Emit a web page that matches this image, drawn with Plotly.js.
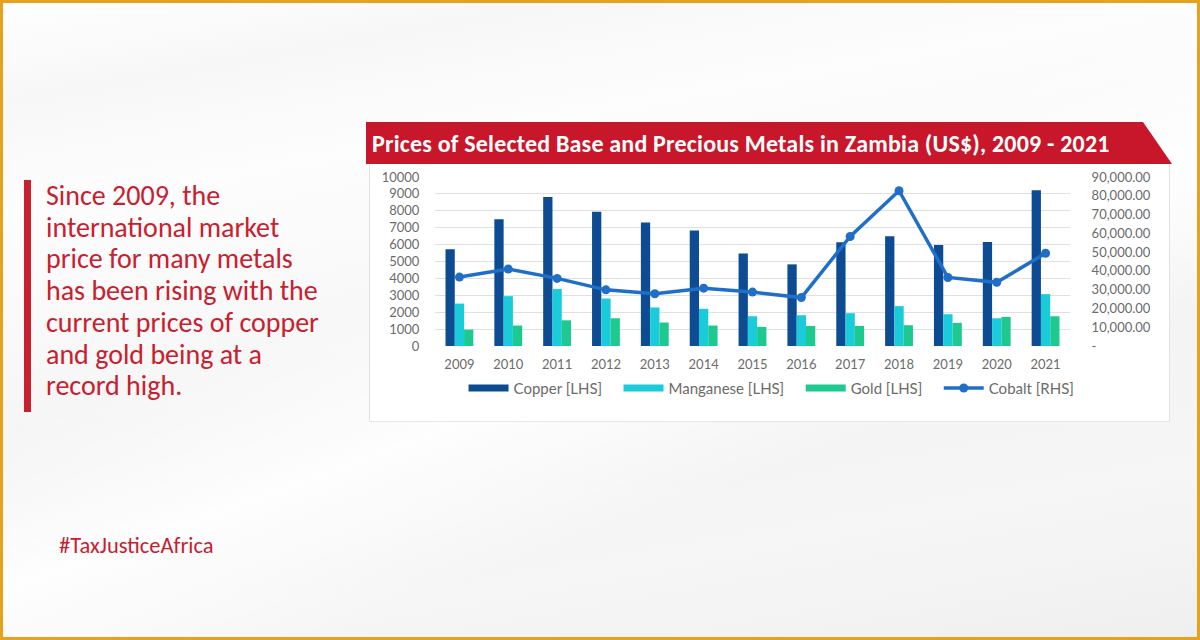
<!DOCTYPE html>
<html>
<head>
<meta charset="utf-8">
<script src="https://cdn.plot.ly/plotly-3.0.1.min.js"></script>
<style>
  html, body { margin: 0; padding: 0; }
  body {
    width: 1200px; height: 640px; position: relative; overflow: hidden;
    background:
      linear-gradient(160deg, rgba(255,255,255,0) 0%, rgba(255,255,255,0) 40%, rgba(255,255,255,0.9) 55%, rgba(255,255,255,0) 70%),
      linear-gradient(170deg, #ffffff 0%, #f7f7f7 12%, #fdfdfd 25%, #f3f3f3 60%, #f6f6f6 80%, #efefef 100%);
  }
  #frame {
    position: absolute; left: 0; top: 0; width: 1194px; height: 634px;
    border: 3px solid #e6a21c; pointer-events: none;
  }
  #bar {
    position: absolute; left: 24px; top: 180px; width: 7px; height: 232px; background: #c8202f;
  }
  #lead {
    position: absolute; left: 46px; top: 180px;
    font-family: Carlito, Lato, sans-serif; font-size: 28px; line-height: 31.7px; color: #c8202f;
  }
  #tag {
    position: absolute; left: 59px; top: 534px;
    font-family: Carlito, Lato, sans-serif; font-size: 22.5px; line-height: 24px; color: #c8202f;
  }
  #panel {
    position: absolute; left: 369px; top: 164px; width: 799px; height: 257px;
    background: #ffffff; border-left: 1px solid #e2e2e2; border-right: 1px solid #e2e2e2;
    border-bottom: 1px solid #e6e6e6;
  }
  #banner {
    position: absolute; left: 366px; top: 122px; width: 806px; height: 42px;
    background: #c8172a;
    clip-path: polygon(0 0, 777px 0, 806px 42px, 0 42px);
  }
  #banner span {
    position: absolute; left: 6px; top: 8px; white-space: nowrap; letter-spacing: 0.2px;
    font-family: Carlito, Lato, sans-serif; font-weight: bold; font-size: 24px; line-height: 28px; color: #ffffff;
  }
  #chart { position: absolute; left: 369px; top: 164px; width: 799px; height: 257px; }
</style>
</head>
<body>
<div id="frame"></div>
<div id="bar"></div>
<div id="lead">Since 2009, the<br>international market<br>price for many metals<br>has been rising with the<br>current prices of copper<br>and gold being at a<br>record high.</div>
<div id="tag">#TaxJusticeAfrica</div>
<div id="panel"></div>
<div id="banner"><span>Prices of Selected Base and Precious Metals in Zambia (US$), 2009 - 2021</span></div>
<div id="chart"></div>
<script>
var years = ['2009', '2010', '2011', '2012', '2013', '2014', '2015', '2016', '2017', '2018', '2019', '2020', '2021'];
var copper = [5720, 7500, 8810, 7940, 7310, 6830, 5470, 4830, 6140, 6500, 5980, 6160, 9210];
var manganese = [2510, 2950, 3370, 2810, 2280, 2200, 1760, 1820, 1940, 2360, 1880, 1640, 3070];
var gold = [970, 1210, 1520, 1640, 1390, 1210, 1130, 1190, 1190, 1230, 1370, 1720, 1760];
var cobalt = [36700, 41000, 36000, 29900, 27800, 30800, 28700, 25800, 58300, 82700, 36500, 33900, 49400];

var leftTicks = [0, 1000, 2000, 3000, 4000, 5000, 6000, 7000, 8000, 9000, 10000];
var leftTickText = ['0', '1000', '2000', '3000', '4000', '5000', '6000', '7000', '8000', '9000', '10000'];
var rightTicks = [0, 10000, 20000, 30000, 40000, 50000, 60000, 70000, 80000, 90000];
var rightTickText = ['-', '10,000.00', '20,000.00', '30,000.00', '40,000.00', '50,000.00',
  '60,000.00', '70,000.00', '80,000.00', '90,000.00'];

var colors = {copper: '#0d4c93', manganese: '#1accd9', gold: '#1dc98f', cobalt: '#1f6fc9'};

var tick_font = {
  family: 'Lato, sans-serif',
  size: 13,
  color: '#6b6b6b'
};

// trailing no-break spaces widen the gap between legend entries
var pad = '\u00a0\u00a0\u00a0';

// bars stay out of the legend; wide swatches come from empty line traces
function barTrace(vals, name, color) {
  return {x: years, y: vals, name: name, type: 'bar', legendgroup: name, showlegend: false,
    marker: {color: color}};
}
function swatch(name, color) {
  return {x: [years[0]], y: [null], name: name + pad, type: 'scatter', mode: 'lines', legendgroup: name,
    line: {color: color, width: 7}, hoverinfo: 'skip'};
}

var data = [
  barTrace(copper, 'Copper [LHS]', colors.copper),
  barTrace(manganese, 'Manganese [LHS]', colors.manganese),
  barTrace(gold, 'Gold [LHS]', colors.gold),
  swatch('Copper [LHS]', colors.copper),
  swatch('Manganese [LHS]', colors.manganese),
  swatch('Gold [LHS]', colors.gold),
  {
    x: years, y: cobalt, name: 'Cobalt [RHS]', type: 'scatter', mode: 'lines+markers',
    yaxis: 'y2',
    line: {color: colors.cobalt, width: 3.5},
    marker: {color: colors.cobalt, size: 9}
  }
];

var layout = {
  barmode: 'group',
  bargap: 0.43,
  bargroupgap: 0,
  width: 799,
  height: 257,
  margin: {l: 66, r: 98, t: 13, b: 75, autoexpand: false},
  paper_bgcolor: 'rgba(0,0,0,0)',
  plot_bgcolor: 'rgba(0,0,0,0)',
  font: tick_font,
  showlegend: true,
  legend: {
    orientation: 'h',
    x: 0.53, xanchor: 'center',
    y: -0.25, yanchor: 'middle',
    font: {family: 'Lato, sans-serif', size: 15, color: '#6b6b6b'},
    traceorder: 'normal',
    itemwidth: 40
  },
  xaxis: {
    type: 'category',
    range: [-0.5, years.length - 0.5],
    tickfont: tick_font,
    showgrid: false,
    showline: false,
    ticks: 'outside',
    ticklen: 6,
    tickcolor: 'rgba(0,0,0,0)',
    automargin: false,
    fixedrange: true
  },
  yaxis: {
    range: [0, 10000],
    tickvals: leftTicks,
    ticktext: leftTickText,
    tickfont: tick_font,
    gridcolor: '#e0e0e0',
    gridwidth: 1,
    zeroline: false,
    ticks: 'outside',
    ticklen: 12,
    tickcolor: 'rgba(0,0,0,0)',
    automargin: false,
    fixedrange: true
  },
  yaxis2: {
    overlaying: 'y',
    side: 'right',
    range: [0, 90000],
    tickvals: rightTicks,
    ticktext: rightTickText,
    tickfont: tick_font,
    showgrid: false,
    zeroline: false,
    ticks: 'outside',
    ticklen: 18,
    tickcolor: 'rgba(0,0,0,0)',
    automargin: false,
    fixedrange: true
  }
};

Plotly.newPlot('chart', data, layout, {displayModeBar: false, staticPlot: true});
</script>
</body>
</html>
